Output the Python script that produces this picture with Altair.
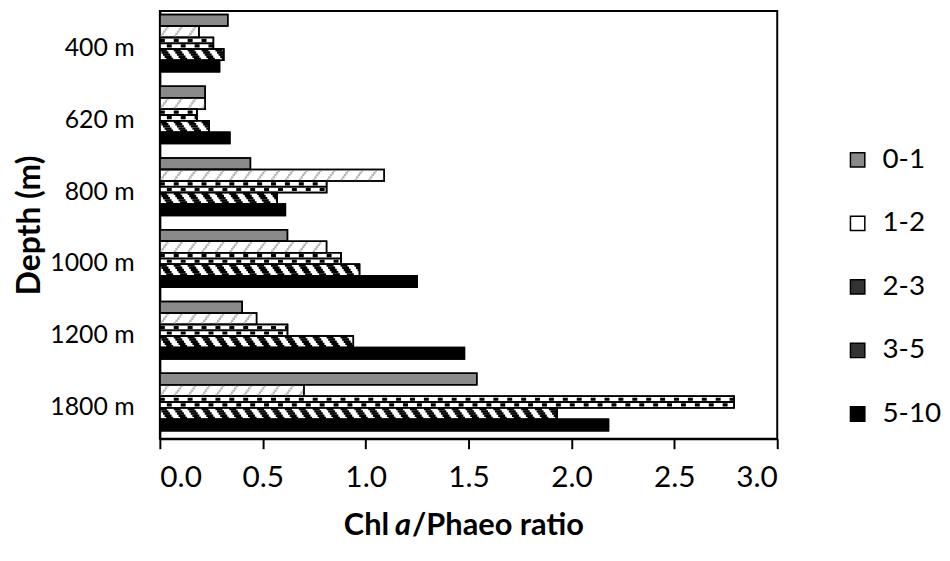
import altair as alt
import pandas as pd

depths = ["400 m", "620 m", "800 m", "1000 m", "1200 m", "1800 m"]
series = ["0-1", "1-2", "2-3", "3-5", "5-10"]
v_0_1 = [0.33, 0.22, 0.44, 0.62, 0.40, 1.54]
v_1_2 = [0.19, 0.22, 1.09, 0.81, 0.47, 0.70]
v_2_3 = [0.26, 0.18, 0.81, 0.88, 0.62, 2.79]
v_3_5 = [0.31, 0.24, 0.57, 0.97, 0.94, 1.93]
v_5_10 = [0.29, 0.34, 0.61, 1.25, 1.48, 2.18]
x_ticks = [0.0, 0.5, 1.0, 1.5, 2.0, 2.5, 3.0]

legend_fills = ["#8a8a8a", "#ffffff", "#333333", "#333333", "#000000"]

rows = []
for s, vals in zip(series, [v_0_1, v_1_2, v_2_3, v_3_5, v_5_10]):
    for d, v in zip(depths, vals):
        rows.append({"depth": d, "series": s, "value": v, "zero": 0.0})
df = pd.DataFrame(rows)

FONT = "Lato"
W, H = 622, 431
P_IN, P_OUT = 0.2, 0.08
step = H / (len(depths) - P_IN + 2 * P_OUT)
sub = step * (1 - P_IN) / len(series)   # height of one bar within a group

xenc = alt.X(
    "value:Q",
    scale=alt.Scale(domain=[0, 3], nice=False, zero=True),
    axis=alt.Axis(
        values=x_ticks, format=".1f", grid=False,
        domainColor="black", domainWidth=2,
        tickColor="black", tickWidth=2, tickSize=10,
        labelFontSize=30, labelColor="black", labelFont=FONT, labelPadding=14,
        title=None,
    ),
)
yenc = alt.Y(
    "depth:N", sort=depths,
    scale=alt.Scale(paddingInner=P_IN, paddingOuter=P_OUT, align=0.3),
    axis=alt.Axis(
        ticks=False, domainColor="black", domainWidth=2,
        labelFontSize=25, labelColor="black", labelFont=FONT, labelPadding=26,
        labelOffset=5,
        title="Depth (m)", titleFont=FONT, titleFontSize=32,
        titleFontWeight="bold", titleColor="black", titlePadding=3,
    ),
)
yoff = alt.YOffset("series:N", sort=series, scale=alt.Scale(paddingInner=0, paddingOuter=0))

base = alt.Chart(df).encode(y=yenc, yOffset=yoff)
base_nooff = alt.Chart(df).encode(y=yenc)

bars = base.mark_bar(stroke="black", strokeWidth=1.5).encode(
    x=xenc,
    fill=alt.Fill(
        "series:N",
        scale=alt.Scale(domain=series, range=legend_fills),
        legend=alt.Legend(
            title=None, orient="none", legendX=689, legendY=136,
            symbolType="square", symbolSize=210,
            symbolStrokeColor="black", symbolStrokeWidth=1.5,
            labelFontSize=28, labelFont=FONT, labelColor="black",
            labelOffset=11, rowPadding=36, padding=0,
        ),
    ),
)

white_under = base.transform_filter(
    (alt.datum.series == "2-3") | (alt.datum.series == "3-5")
).mark_bar(fill="white", stroke="black", strokeWidth=1.5).encode(x="value:Q")


def stripe(s, dy, **kw):
    k = series.index(s)
    off = (k - (len(series) - 1) / 2) * sub + dy
    return base_nooff.transform_filter(alt.datum.series == s).mark_rule(yOffset=off, **kw).encode(
        x="zero:Q", x2="value:Q"
    )

layers = [bars, white_under]
rows_dy = [-4.4, -2.2, 0.0, 2.2, 4.4]
# 1-2: light grey slanted dashes "/"
for r, dy in enumerate(rows_dy):
    layers.append(stripe("1-2", dy, color="#b8b8b8", strokeWidth=2.3,
                         strokeDash=[2.5, 11.5], strokeDashOffset=(14 - (4 - r) * 1.6) % 14))
# 2-3: stepped black pattern with small squares
layers.append(stripe("2-3", 0, color="black", strokeWidth=2))
layers.append(stripe("2-3", -2.8, color="black", strokeWidth=3.2, strokeDash=[5, 9]))
layers.append(stripe("2-3", 2.8, color="black", strokeWidth=3.2, strokeDash=[5, 9], strokeDashOffset=7))
# 3-5: bold black slanted stripes "\"
for r, dy in enumerate(rows_dy):
    layers.append(stripe("3-5", dy, color="black", strokeWidth=2.4,
                         strokeDash=[7, 7], strokeDashOffset=(14 - r * 1.6) % 14))

outline = base.mark_bar(fillOpacity=0, stroke="black", strokeWidth=1.5).encode(x="value:Q")
layers.append(outline)

title_df = pd.DataFrame({"t": [0]})
tb = alt.Chart(title_df)
TY = H + 88
t1 = tb.mark_text(text="Chl", font=FONT, fontSize=31, fontWeight="bold", align="right",
                  baseline="middle", color="black").encode(x=alt.value(231), y=alt.value(TY))
t2 = tb.mark_text(text="a", font=FONT, fontSize=31, fontWeight="bold", fontStyle="italic",
                  align="center", baseline="middle", color="black").encode(x=alt.value(245), y=alt.value(TY))
t3 = tb.mark_text(text="/Phaeo ratio", font=FONT, fontSize=31, fontWeight="bold", align="left",
                  baseline="middle", color="black").encode(x=alt.value(254), y=alt.value(TY))
layers += [t1, t2, t3]

chart = alt.layer(*layers).properties(
    width=W, height=H, background="white",
    padding={"left": 6, "top": 1, "right": 0, "bottom": 0},
).configure_view(stroke="black", strokeWidth=2)

chart.save("out.html", embed_options={"renderer": "svg", "actions": False})
